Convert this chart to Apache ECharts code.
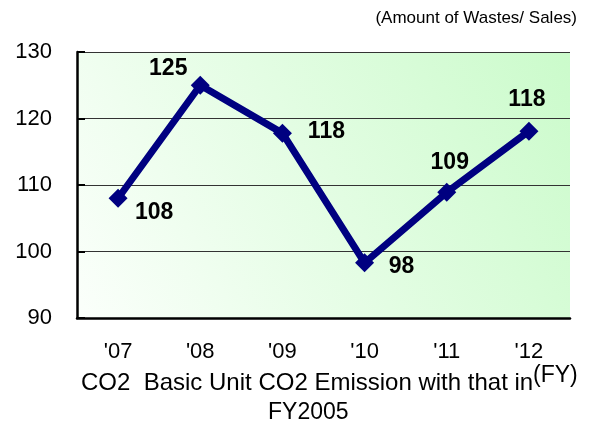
<!DOCTYPE html>
<html>
<head>
<meta charset="utf-8">
<script src="https://cdn.jsdelivr.net/npm/echarts@6/dist/echarts.min.js"></script>
<style>
  html, body { margin: 0; padding: 0; background: #fff; }
  #chart { width: 589px; height: 429px; }
</style>
</head>
<body>
<div id="chart"></div>
<script>
// 年度
const years = ["'07", "'08", "'09", "'10", "'11", "'12"];
// 原単位 (FY2005 = 100)
const values = [108, 125, 117.8, 98.3, 108.9, 118.1];
// ラベルのずれ (マーカー中心から)
const labelOffsets = [[36, 14], [-32, -17], [44, -1], [37, 4], [3, -30], [-2, -31]];

const myChart = echarts.init(document.getElementById("chart"));
const font = "Liberation Sans, Arial, sans-serif";

const options = {
  animation: false,
  grid: { left: 77, right: 19, top: 52, bottom: 111 },
  xAxis: {
    type: "category",
    data: years,
    boundaryGap: true,
    axisLine: { lineStyle: { color: "#000", width: 2.5 } },
    axisTick: { inside: true, length: 8, lineStyle: { color: "#000", width: 2 } },
    axisLabel: { color: "#000", fontSize: 22, fontFamily: font, margin: 23 },
  },
  yAxis: {
    type: "value",
    min: 90,
    max: 130,
    interval: 10,
    axisLine: { show: true, lineStyle: { color: "#000", width: 2.5 } },
    axisTick: { show: true, inside: true, length: 8, lineStyle: { color: "#000", width: 2 } },
    axisLabel: { color: "#000", fontSize: 22, fontFamily: font, margin: 25 },
    splitLine: { lineStyle: { color: "#333", width: 1 } },
  },
  series: [
    {
      type: "line",
      data: values.map((v, i) => ({
        value: v,
        label: { offset: labelOffsets[i] },
      })),
      symbol: "diamond",
      symbolSize: 19,
      lineStyle: { color: "#000080", width: 7 },
      itemStyle: { color: "#000080" },
      label: {
        show: true,
        position: "inside",
        color: "#000",
        fontSize: 23,
        fontWeight: "bold",
        fontFamily: font,
        formatter: (p) => Math.round(p.value),
      },
    },
  ],
  graphic: [
    {
      type: "rect",
      z: -1,
      shape: { x: 77, y: 52, width: 493, height: 266 },
      style: {
        fill: new echarts.graphic.LinearGradient(0, 1, 1, 0, [
          { offset: 0, color: "#fbfffb" },
          { offset: 1, color: "#cbfbcb" },
        ]),
      },
    },
    {
      type: "text",
      right: 12,
      top: 10,
      style: { text: "(Amount of Wastes/ Sales)", fill: "#000", font: "17px " + font },
    },
    {
      type: "text",
      left: 81,
      top: 371,
      style: { text: "CO2  Basic Unit CO2 Emission with that in", fill: "#000", font: "24px " + font },
    },
    {
      type: "text",
      left: 533,
      top: 364,
      style: { text: "(FY)", fill: "#000", font: "23px " + font },
    },
    {
      type: "text",
      left: 268,
      top: 401,
      style: { text: "FY2005", fill: "#000", font: "23px " + font },
    },
  ],
};

myChart.setOption(options);
</script>
</body>
</html>
